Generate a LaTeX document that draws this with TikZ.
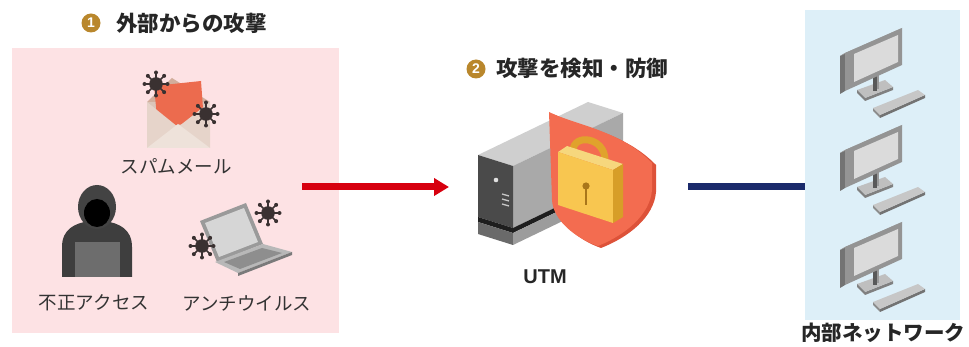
\documentclass[tikz,border=0pt]{standalone}
\usepackage{fontspec}
\newfontfamily\jp{Noto Sans CJK JP}
\setmainfont{Liberation Sans}
\usetikzlibrary{arrows.meta}

\definecolor{pinkbg}{HTML}{FDE2E4}
\definecolor{bluebg}{HTML}{DDEFF8}
\definecolor{gold}{HTML}{B9872C}
\definecolor{attackred}{HTML}{D7000F}
\definecolor{navyline}{HTML}{1B2A6B}
\definecolor{txt}{HTML}{333333}
\definecolor{virusc}{HTML}{3A3131}

\tikzset{
  hx/.code={\definecolor{hxcol}{HTML}{#1}\pgfkeysalso{color=hxcol}},
  panel/.style={inner sep=0pt, outer sep=0pt, draw=none, anchor=north west},
  caption/.style={font=\jp\fontsize{18.5}{20}\selectfont, text=txt, inner sep=0pt},
  heading/.style={font=\jp\bfseries\fontsize{21.5}{23}\selectfont, text=black!85, inner sep=0pt},
  lanheading/.style={font=\jp\bfseries\fontsize{20.5}{22}\selectfont, text=black!85, inner sep=0pt},
  badgenum/.style={text=white, inner sep=0pt, font=\bfseries\fontsize{14}{14}\selectfont},
  virus/.pic={
    \foreach \a in {0,45,...,315}{
      \draw[virusc, line width=1.5pt] (0,0) -- (\a:11.5);
      \fill[virusc] (\a:11.5) circle[radius=2];
    }
    \fill[virusc] (0,0) circle[radius=6.8];
  },
  monitor/.pic={
    % keyboard
    \fill[black!45] (43,88) -- (50,95) -- (50,98) -- (43,91) -- cycle;
    \fill[black!55] (50,95) -- (95,75) -- (95,78) -- (50,98) -- cycle;
    \fill[black!22] (43,88) -- (88,70) -- (95,75) -- (50,95) -- cycle;
    % stand base
    \fill[black!50] (35,78) -- (63,67) -- (63,70) -- (35,81) -- cycle;
    \fill[black!25] (27,70) -- (55,60) -- (63,67) -- (35,78) -- cycle;
    \fill[black!50] (27,70) -- (35,78) -- (35,81) -- (27,73) -- cycle;
    % neck
    \fill[black!65] (43,56) rectangle (47,71);
    \fill[black!40] (47,55) rectangle (49,69);
    % screen body: side, top, front, glass
    \fill[black!55] (10,36) -- (15,33) -- (15,71) -- (10,74) -- cycle;
    \fill[black!35] (10,36) -- (67,11) -- (72,8) -- (15,33) -- cycle;
    \fill[black!42] (15,33) -- (72,8) -- (72,45) -- (15,71) -- cycle;
    \fill[black!14] (24,34) -- (68,15) -- (68,42) -- (24,62) -- cycle;
  }
}

\begin{document}
\begin{tikzpicture}[x=1pt, y=-1pt]
\useasboundingbox (0,0) rectangle (969,347);

% ---------- panels ----------
\node[panel, fill=pinkbg, minimum width=327pt, minimum height=285pt] (attack) at (12,48) {};
\node[panel, fill=bluebg, minimum width=155pt, minimum height=310pt] (lan) at (805,10) {};

% ---------- headings ----------
\fill[gold] (91,23) circle[radius=9.5];
\node[badgenum] (b1) at (91,23) {1};
\node[heading, anchor=west] (h1) at (116,23) {外部からの攻撃};
\fill[gold] (476,69) circle[radius=9.5];
\node[badgenum] (b2) at (476,69) {2};
\node[heading, anchor=west] (h2) at (496,68) {攻撃を検知・防御};

% ---------- spam mail ----------
\fill[hx=D2AE9C] (147,102) -- (172,78) -- (210,102) -- cycle;
\fill[hx=DBC5B9] (147,102) rectangle (210,148);
\fill[hx=EC6B4E] (154,86) -- (201,81) -- (204,122) -- (158,127) -- cycle;
\fill[hx=E6D4CA] (147,102) -- (178,127) -- (210,102) -- (210,148) -- (147,148) -- cycle;
\fill[hx=EEE2DA] (147,148) -- (178,124) -- (210,148) -- cycle;
\pic at (156,84) {virus};
\pic at (206,114) {virus};
\node[caption] (spam) at (176,166) {スパムメール};

% ---------- intruder ----------
\fill[hx=3E3E3E] (62,277) -- (62,247) .. controls (62,229) and (75,223) .. (90,221)
  -- (104,221) .. controls (119,223) and (132,229) .. (132,247) -- (132,277) -- cycle;
\fill[hx=434343] (97,207) ellipse (19 and 22);
\fill[black] (97,213) ellipse (13 and 14);
\fill[hx=6D6D6D] (75,242) rectangle (120,277);
\node[caption] (intrude) at (94,303) {不正アクセス};

% ---------- infected laptop ----------
\fill[hx=9A9A9A] (200,221) -- (246,203) -- (263,244) -- (217,262) -- cycle;
\fill[hx=D6D6D6] (205,223) -- (244,208) -- (258,242) -- (219,257) -- cycle;
\fill[hx=B8B8B8] (215,262) -- (263,244) -- (292,252) -- (238,273) -- cycle;
\fill[hx=8E8E8E] (224,262) -- (262,248) -- (282,253) -- (240,269) -- cycle;
\fill[hx=7A7A7A] (238,273) -- (292,252) -- (292,255) -- (238,276) -- cycle;
\pic at (268,213) {virus};
\pic at (202,246) {virus};
\node[caption] (antivirus) at (247,303) {アンチウイルス};

% ---------- UTM appliance ----------
\fill[hx=CFCFCF] (478,155) -- (513,166) -- (623,113) -- (588,102) -- cycle;
\fill[hx=A9A9A9] (513,166) -- (623,113) -- (623,175) -- (513,228) -- cycle;
\fill[hx=4A4A4A] (478,155) -- (513,166) -- (513,228) -- (478,217) -- cycle;
\fill[hx=1E1E1E] (478,217) -- (513,228) -- (623,175) -- (623,180) -- (513,233) -- (478,222) -- cycle;
\fill[hx=6A6A6A] (478,222) -- (513,233) -- (513,245) -- (478,234) -- cycle;
\fill[hx=9C9C9C] (513,233) -- (623,180) -- (623,192) -- (513,245) -- cycle;
\fill[hx=E0E0E0] (496,180) circle[radius=2.3];
\foreach \v in {194,199,204}
  \draw[hx=C8C8C8, line width=1.3pt] (502,\v) -- (509,\v+2);

% shield
\fill[hx=DD5239] (553,114) .. controls (579,127) and (624,132) .. (656,165) -- (656,192)
  .. controls (654,217) and (629,237) .. (601,248) .. controls (578,240) and (557,222) .. (556,202) -- cycle;
\fill[hx=F36C50] (549,112) .. controls (575,125) and (620,130) .. (652,163) -- (652,190)
  .. controls (650,215) and (625,235) .. (598,246) .. controls (575,238) and (553,220) .. (552,200) -- cycle;

% padlock
\draw[hx=E0A22C, line width=7pt] (573,158) -- (573,151) .. controls (573,133) and (605,137) .. (605,160) -- (605,168);
\fill[hx=F6D77D] (558,152) -- (567,146) -- (623,164) -- (613,170) -- cycle;
\fill[hx=F8C650] (558,152) -- (613,170) -- (613,223) -- (558,205) -- cycle;
\fill[hx=D79E28] (613,170) -- (623,164) -- (623,217) -- (613,223) -- cycle;
\fill[hx=A9761A] (586,186) circle[radius=3.6];
\fill[hx=A9761A] (584.7,186) rectangle (587.3,205);
\node[font=\bfseries\fontsize{20}{22}\selectfont, text=black!85, inner sep=0pt] (utm) at (545,277) {UTM};

% ---------- internal network ----------
\foreach \dy in {0,97,194}
  \pic at (830,20+\dy) {monitor};
\node[lanheading] (lanlabel) at (883,333) {内部ネットワーク};

% ---------- connectors ----------
\coordinate (inflow) at (302,187);
\coordinate (utmin) at (449,187);
\coordinate (utmout) at (688,187);
\draw[attackred, line width=7pt, -{Triangle[length=15pt, width=17pt]}] (inflow) -- (utmin);
\draw[navyline, line width=7pt] (utmout) -- (utmout -| lan.west);
\end{tikzpicture}
\end{document}
